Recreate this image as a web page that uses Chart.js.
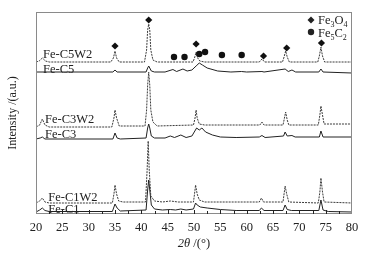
<!DOCTYPE html>
<html>
<head>
<meta charset="utf-8">
<script src="https://cdn.jsdelivr.net/npm/chart.js@4.4.1/dist/chart.umd.min.js"></script>
<style>
  html, body { margin:0; padding:0; background:#fff; }
  #wrap { width:367px; height:258px; position:relative; }
</style>
</head>
<body>
<div id="wrap"><canvas id="xrd"></canvas></div>
<script>
// [2theta, intensity]; intensity is in a.u. with the stacking offset included
const feC5W2 = [[20,152],[20.6,153],[21.2,156],[21.8,153],[22.5,152],[34.2,152],[34.7,156],[35.0,163],[35.3,156],[35.8,152],
  [40.6,152],[41.0,164],[41.2,184],[41.4,190],[41.6,184],[41.8,164],[42.2,154],[43,152],[49.8,152],[50.1,156],[50.4,162],
  [50.7,156],[51.1,153],[52,152],[62.4,152],[62.9,155],[63.4,152],[66.8,152],[67.1,157],[67.4,163],[67.7,157],[68.1,152],
  [73.5,152],[73.8,158],[74.1,167],[74.4,158],[74.8,152],[80,152]];
const feC5 = [[20,142],[34.6,142],[35.0,144],[35.4,142],[40.9,142],[41.2,146],[41.4,148],[41.6,146],[41.9,143],[42.5,142],
  [44.5,142],[46.0,144.5],[46.7,142.5],[47.9,145],[48.7,143],[49.6,144],[50.4,148],[51.0,151],[51.6,149],[52.5,146],
  [54.5,143],[57,142],[59,142.5],[60,142],[62.9,142.5],[63.3,142],[67.3,145],[67.9,142.5],[68.6,144],[69.3,142],
  [73.7,142],[74.1,145],[74.5,142],[80,141]];
const feC3W2 = [[20,87],[20.7,89],[21.2,95],[21.7,89],[22.5,87],[34.4,87],[34.8,96],[35.0,104],[35.3,96],[35.8,88],
  [40.7,88],[41.0,104],[41.2,129],[41.4,142],[41.6,129],[41.8,104],[42.2,92],[43,88],[49.9,89],[50.2,96],[50.4,104],
  [50.6,96],[51,90],[52,89],[62.5,89],[62.9,92],[63.3,89],[66.9,89],[67.1,94],[67.4,102],[67.7,94],[68.0,89],
  [73.6,89],[73.9,99],[74.1,108],[74.4,99],[74.7,90],[80,90]];
const feC3 = [[20,75],[20.8,76],[21.2,77],[21.7,75],[34.6,75],[35.0,81],[35.4,76],[36,75],[40.9,76],[41.2,86],[41.4,90],
  [41.6,86],[41.9,78],[42.5,76],[44.5,76],[45.5,78],[46.3,76.5],[47.5,79],[48.5,76.5],[49.6,78],[50.5,86],[51.0,84],
  [51.5,86],[52.2,82],[53.5,79],[55,77],[58,76.5],[62.4,77],[62.9,78.5],[63.5,76.5],[67.0,78],[67.3,82],[67.7,78],
  [68.6,78.5],[69.2,77],[73.8,77],[74.1,83],[74.5,77],[80,77]];
const feC1W2 = [[20,11],[20.7,13],[21.2,16],[21.7,12],[22.5,11],[34.5,11],[34.8,20],[35.0,29],[35.3,20],[35.7,13],
  [36.5,12],[40.8,12],[41.1,44],[41.3,73],[41.5,44],[41.8,18],[42.5,13],[44,12],[45.5,13],[47,12],[49.9,12],[50.1,20],
  [50.3,29],[50.6,20],[51,14],[52,12],[62.4,12],[62.8,16],[63.2,12],[66.9,12],[67.1,20],[67.3,28],[67.6,20],[68.0,12],
  [73.6,11],[73.9,22],[74.1,36],[74.4,22],[74.7,12],[80,11]];
const feC1 = [[20,2],[20.7,4],[21.2,6],[21.7,3.5],[22.5,2.5],[34.5,2.5],[34.8,7],[35.0,10],[35.4,6],[36,3],[40.9,4],
  [41.2,24],[41.4,34],[41.6,24],[41.9,9],[42.5,5],[44,4],[45.5,4.5],[46.5,4],[47.5,5],[48.5,4],[49.9,5],[50.3,11],
  [50.6,9],[51.2,7],[52.5,6],[55,4.5],[58,3.5],[62.4,3.5],[62.8,6],[63.3,3.5],[66.9,3.5],[67.3,9],[67.7,4.5],[68.5,3.5],
  [73.7,3.5],[74.1,14],[74.5,4],[75.5,2.5],[80,2]];

// phase markers above the Fe-C5W2 pattern
const fe3o4Marks = [[35.0,168],[41.4,194],[50.4,170],[63.2,158],[67.6,166],[74.2,171]];
const fe5c2Marks = [[46.2,157],[48.2,157],[51.0,160],[52.1,162],[55.3,159],[59.05,159]];

const sampleNames = ["Fe-C5W2", "Fe-C5", "Fe-C3W2", "Fe-C3", "Fe-C1W2", "Fe-C1"];
const xRange = [20, 80];
const yRange = [0, 202];

const FONT = "'Liberation Serif', 'Times New Roman', serif";
const INK = "#222";

const toXY = (arr) => arr.map(([x, y]) => ({ x, y }));

function pattern(label, data, dashed) {
  return {
    type: "line",
    label,
    data: toXY(data),
    borderColor: dashed ? "#3a3a3a" : INK,
    borderWidth: 1,
    borderDash: dashed ? [2, 1] : [],
    pointRadius: 0,
    tension: 0,
    fill: false
  };
}

// where each name sits: [2theta, intensity] of the text baseline start
const labelAt = [[21.33,156],[21.33,141.5],[21.71,91.5],[21.71,76.5],[22.34,13.5],[22.34,1.5]];

function subText(ctx, parts, x, y) {
  // parts: [text, isSub]
  let cx = x;
  parts.forEach(([t, sub]) => {
    ctx.font = sub ? `8px ${FONT}` : `12.5px ${FONT}`;
    ctx.fillText(t, cx, sub ? y + 3 : y);
    cx += ctx.measureText(t).width;
  });
}

const decorations = {
  id: "decorations",
  afterDraw(chart) {
    const { ctx, chartArea: a, scales: { x, y } } = chart;
    ctx.save();

    // frame
    ctx.strokeStyle = "#8a8a8a";
    ctx.lineWidth = 1;
    ctx.strokeRect(a.left + 0.5, a.top + 0.5, a.right - a.left - 1, a.bottom - a.top - 1);

    // inward ticks on the 2theta axis, majors every 5 and minors halfway
    ctx.strokeStyle = INK;
    ctx.beginPath();
    for (let v = xRange[0] + 2.5; v < xRange[1]; v += 2.5) {
      const px = Math.round(x.getPixelForValue(v)) + 0.5;
      const len = v % 5 === 0 ? 4 : 3;
      ctx.moveTo(px, a.bottom);
      ctx.lineTo(px, a.bottom - len);
    }
    ctx.stroke();

    // sample names
    ctx.fillStyle = INK;
    ctx.textBaseline = "alphabetic";
    ctx.textAlign = "left";
    ctx.font = `12.5px ${FONT}`;
    sampleNames.forEach((n, i) => {
      ctx.fillText(n, x.getPixelForValue(labelAt[i][0]), y.getPixelForValue(labelAt[i][1]));
    });

    // legend, top right
    const lx = a.right - 41;
    ctx.beginPath();
    ctx.moveTo(lx, 20 - 3.5); ctx.lineTo(lx + 3.5, 20); ctx.lineTo(lx, 20 + 3.5); ctx.lineTo(lx - 3.5, 20);
    ctx.closePath(); ctx.fill();
    ctx.beginPath(); ctx.arc(lx, 32, 3.2, 0, Math.PI * 2); ctx.fill();
    subText(ctx, [["Fe", 0], ["3", 1], ["O", 0], ["4", 1]], lx + 7, 23.5);
    subText(ctx, [["Fe", 0], ["5", 1], ["C", 0], ["2", 1]], lx + 7, 36.5);

    // x title: 2θ /(°)
    const tx = (a.left + a.right) / 2;
    ctx.font = `italic 12.5px ${FONT}`;
    const w1 = ctx.measureText("2θ").width;
    ctx.font = `12.5px ${FONT}`;
    const w2 = ctx.measureText(" /(°)").width;
    const sx = tx - (w1 + w2) / 2;
    ctx.font = `italic 12.5px ${FONT}`;
    ctx.fillText("2θ", sx, 247);
    ctx.font = `12.5px ${FONT}`;
    ctx.fillText(" /(°)", sx + w1, 247);

    ctx.restore();
  }
};

new Chart(document.getElementById("xrd"), {
  data: {
    datasets: [
      {
        type: "scatter", label: "Fe3O4", data: toXY(fe3o4Marks),
        pointStyle: "rectRot", pointRadius: 3.6, backgroundColor: "#111", borderColor: "#111", borderWidth: 0
      },
      {
        type: "scatter", label: "Fe5C2", data: toXY(fe5c2Marks),
        pointStyle: "circle", pointRadius: 3.2, backgroundColor: "#111", borderColor: "#111", borderWidth: 0
      },
      pattern("Fe-C5W2", feC5W2, true),
      pattern("Fe-C5", feC5, false),
      pattern("Fe-C3W2", feC3W2, true),
      pattern("Fe-C3", feC3, false),
      pattern("Fe-C1W2", feC1W2, true),
      pattern("Fe-C1", feC1, false)
    ]
  },
  options: {
    responsive: true,
    maintainAspectRatio: false,
    animation: false,
    layout: { padding: { left: 0, top: 12, right: 15, bottom: 17 } },
    plugins: { legend: { display: false }, tooltip: { enabled: false } },
    scales: {
      x: {
        type: "linear", min: xRange[0], max: xRange[1],
        grid: { display: false, drawTicks: false },
        border: { display: false },
        ticks: { stepSize: 5, padding: 6, color: INK, font: { family: FONT, size: 12.5 } }
      },
      y: {
        type: "linear", min: yRange[0], max: yRange[1],
        grid: { display: false, drawTicks: false },
        border: { display: false },
        ticks: { display: false },
        title: {
          display: true, text: "Intensity /(a.u.)", color: INK,
          font: { family: FONT, size: 12 }, padding: { top: 6, bottom: 15.6 }
        }
      }
    }
  },
  plugins: [decorations]
});
</script>
</body>
</html>
